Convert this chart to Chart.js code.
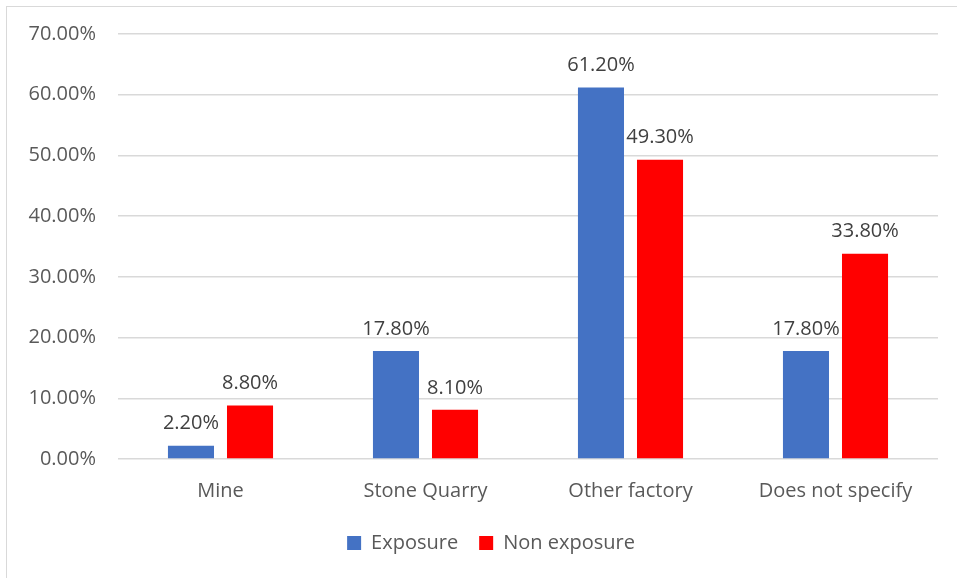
<!DOCTYPE html>
<html>
<head>
<meta charset="utf-8">
<script src="https://cdn.jsdelivr.net/npm/chart.js@4"></script>
<style>
    body { margin: 0; background: #fff; }
    #wrap { position: relative; width: 957px; height: 578px; overflow: hidden; }
    #frame { position: absolute; left: 6px; top: 6px; width: 1000px; height: 1000px; border-left: 1px solid #d9d9d9; border-top: 1px solid #d9d9d9; }
    canvas { position: absolute; left: 0; top: 0; }
</style>
</head>
<body>
<div id="wrap">
    <div id="frame"></div>
    <canvas id="chart" width="957" height="578"></canvas>
</div>
<script>
const categories = ['Mine', 'Stone Quarry', 'Other factory', 'Does not specify'];
const exposure = [2.2, 17.8, 61.2, 17.8];
const nonExposure = [8.8, 8.1, 49.3, 33.8];
const yTicks = [0, 10, 20, 30, 40, 50, 60, 70];

const FONT = "'Open Sans', sans-serif";

// prints the percentage above each bar
const barLabels = {
    id: 'barLabels',
    afterDatasetsDraw(chart) {
        const ctx = chart.ctx;
        ctx.save();
        ctx.font = '20px ' + FONT;
        ctx.fillStyle = '#404040';
        ctx.textAlign = 'center';
        ctx.textBaseline = 'bottom';
        chart.data.datasets.forEach((ds, i) => {
            chart.getDatasetMeta(i).data.forEach((bar, j) => {
                ctx.fillText(ds.data[j].toFixed(2) + '%', bar.x, bar.y - 12);
            });
        });
        ctx.restore();
    }
};

// legend box starts a bit in from the left so the items sit under the plot
const legendOffset = {
    id: 'legendOffset',
    afterLayout(chart) {
        if (chart.legend) chart.legend.left = 44;
    }
};

new Chart(document.getElementById('chart').getContext('2d'), {
    type: 'bar',
    data: {
        labels: categories,
        datasets: [
            { label: 'Exposure', data: exposure, backgroundColor: '#4472C4' },
            { label: 'Non exposure', data: nonExposure, backgroundColor: '#FF0000' }
        ]
    },
    options: {
        responsive: false,
        animation: false,
        barPercentage: 0.78,
        categoryPercentage: 0.576,
        layout: { padding: { top: 34, right: 19, bottom: 15, left: 0 } },
        plugins: {
            legend: {
                position: 'bottom',
                labels: {
                    boxWidth: 14,
                    boxHeight: 14,
                    padding: 21,
                    color: '#595959',
                    font: { family: FONT, size: 20 }
                }
            },
            tooltip: { enabled: false }
        },
        scales: {
            x: {
                grid: { display: false, drawTicks: false },
                border: { display: false },
                ticks: { color: '#595959', padding: 20, font: { family: FONT, size: 20 } },
                afterFit(s) { s.height = 53; }
            },
            y: {
                min: 0,
                max: 70,
                afterBuildTicks(s) { s.ticks = yTicks.map(v => ({ value: v })); },
                grid: { color: '#d9d9d9', lineWidth: 1.5, drawTicks: false },
                border: { display: false },
                ticks: {
                    color: '#595959',
                    padding: 22,
                    font: { family: FONT, size: 20 },
                    callback: v => v.toFixed(2) + '%'
                },
                afterFit(s) { s.width = 118; }
            }
        }
    },
    plugins: [barLabels, legendOffset]
});
</script>
</body>
</html>
